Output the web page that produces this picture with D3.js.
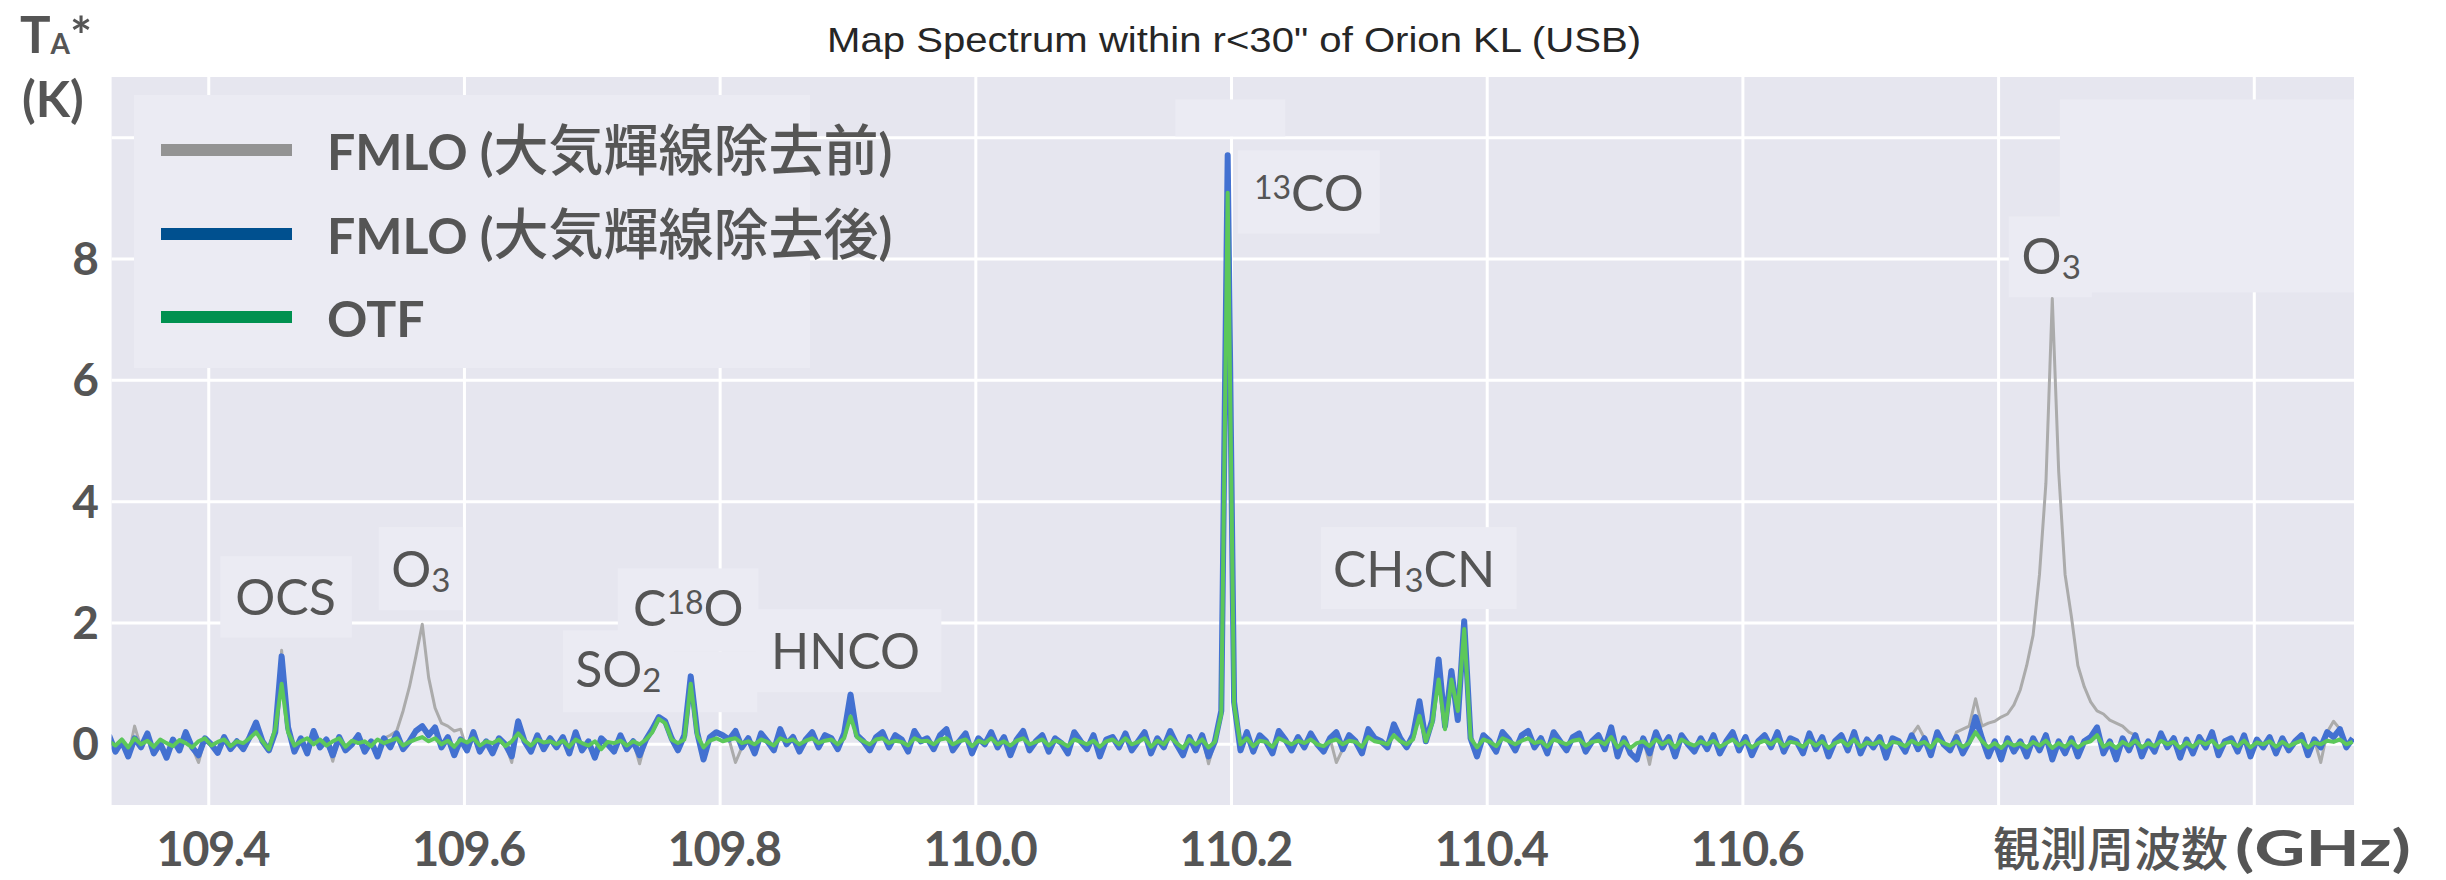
<!DOCTYPE html>
<html>
<head>
<meta charset="utf-8">
<script src="https://cdn.jsdelivr.net/npm/d3@7"></script>
<style>
  body { margin: 0; background: #fff; }
  svg { display: block; }
</style>
</head>
<body>
<div id="chart"></div>
<script>
// spectrometer channel grid (GHz)
const chanStart = 109.322;
const chanWidth = 0.005;

// FMLO after atmospheric line removal, T_A* (K), one value per channel
const fmloAfter = [
  0.15,-0.12,0.05,-0.2,0.1,-0.05,0.18,-0.15,0.02,-0.22,
  0.08,-0.1,0.2,-0.05,-0.18,0.1,0.0,-0.14,0.12,-0.08,
  0.05,-0.08,0.12,0.36,0.05,-0.1,0.2,1.45,0.28,-0.12,
  0.1,-0.15,0.22,-0.05,0.08,-0.18,0.12,-0.1,0.0,0.15,
  -0.12,0.05,-0.2,0.1,-0.05,0.18,-0.08,0.05,0.22,0.3,
  0.15,0.28,-0.05,0.12,-0.18,0.08,-0.1,0.2,-0.12,0.05,
  -0.15,0.1,0.0,-0.2,0.38,0.05,-0.12,0.15,-0.08,0.1,
  -0.05,0.12,-0.15,0.2,-0.1,0.05,-0.22,0.1,0.0,-0.12,
  0.15,-0.08,0.05,-0.18,0.08,0.25,0.45,0.38,0.1,-0.1,
  0.15,1.12,0.2,-0.25,0.12,0.2,0.15,0.08,0.22,-0.05,
  0.1,-0.15,0.18,0.05,-0.1,0.25,0.0,0.12,-0.12,0.08,
  0.2,-0.05,0.15,0.1,-0.08,0.18,0.82,0.15,0.05,-0.1,
  0.12,0.2,-0.05,0.15,0.08,-0.12,0.22,0.05,0.1,-0.08,
  0.15,0.25,-0.1,0.05,0.18,-0.15,0.1,0.0,0.2,-0.05,
  0.12,-0.18,0.08,0.22,-0.1,0.05,0.15,-0.12,0.1,0.02,
  -0.15,0.2,0.05,-0.08,0.15,-0.2,0.08,0.12,-0.05,0.18,
  -0.1,0.05,0.2,-0.15,0.1,-0.05,0.22,0.0,-0.18,0.12,
  -0.1,0.15,-0.2,0.05,0.55,9.71,0.7,-0.1,0.2,-0.12,
  0.15,0.05,-0.15,0.22,0.08,-0.1,0.12,-0.05,0.18,0.0,
  -0.12,0.1,0.2,-0.08,0.15,0.05,-0.15,0.25,0.1,0.05,
  -0.05,0.33,0.1,-0.05,0.15,0.71,0.05,0.4,1.4,0.3,
  1.21,0.4,2.03,0.1,-0.2,0.15,0.05,-0.12,0.2,0.08,
  -0.1,0.15,0.22,-0.05,0.1,-0.15,0.2,0.05,-0.1,0.12,
  0.18,-0.12,0.05,0.15,-0.08,0.28,-0.2,0.1,-0.15,-0.25,
  0.1,-0.15,0.2,-0.05,0.12,-0.2,0.15,0.0,-0.12,0.1,
  -0.08,0.15,-0.15,0.05,0.2,-0.1,0.12,-0.18,0.05,0.15,
  -0.05,0.2,-0.12,0.1,0.05,-0.15,0.18,-0.08,0.12,-0.2,
  0.05,0.15,-0.1,0.2,-0.15,0.08,-0.05,0.12,-0.22,0.1,
  0.05,-0.12,0.15,-0.08,0.1,-0.18,0.2,0.0,-0.1,0.12,
  -0.15,0.05,0.45,0.1,-0.2,0.05,-0.25,0.1,-0.12,0.05,
  -0.2,0.1,-0.1,0.15,-0.25,0.05,-0.15,0.1,-0.2,0.05,
  0.12,0.28,-0.15,0.05,-0.25,0.1,-0.1,0.15,-0.2,0.05,
  -0.12,0.18,-0.05,0.1,-0.22,0.08,-0.15,0.12,-0.05,0.2,
  -0.18,0.05,0.1,-0.12,0.15,-0.2,0.08,-0.05,0.12,-0.15,
  0.1,-0.1,0.05,0.15,-0.18,0.08,-0.05,0.2,0.12,0.25,-0.05,0.1
];

// OTF spectrum, same channels
const otf = [
  0.05,-0.02,0.08,-0.05,0.1,0.0,0.06,-0.04,0.08,0.02,
  -0.03,0.07,0.02,-0.05,0.05,0.1,-0.02,0.04,0.08,-0.03,
  0.05,0.02,0.1,0.2,0.05,-0.08,0.25,1.0,0.2,-0.02,
  0.05,0.1,0.0,0.08,-0.02,0.05,0.1,-0.04,0.06,0.02,
  0.05,-0.03,0.08,0.02,0.06,0.1,-0.02,0.04,0.08,0.12,
  0.05,0.1,0.0,0.06,-0.04,0.08,0.03,0.1,-0.02,0.05,
  0.02,0.08,-0.03,0.05,0.18,0.06,-0.02,0.08,0.03,0.05,
  0.0,0.06,-0.04,0.08,0.02,-0.02,0.05,-0.08,0.04,0.02,
  0.06,-0.02,0.05,0.0,0.08,0.2,0.42,0.35,0.08,0.02,
  0.08,1.0,0.15,-0.05,0.06,0.1,0.05,0.08,0.1,0.02,
  0.05,0.0,0.08,0.04,-0.02,0.1,0.05,0.08,0.0,0.06,
  0.1,0.02,0.06,0.08,0.0,0.1,0.46,0.12,0.05,0.0,
  0.08,0.1,0.02,0.06,0.04,-0.02,0.1,0.05,0.06,0.0,
  0.08,0.1,0.0,0.05,0.08,-0.03,0.06,0.02,0.1,0.0,
  0.05,-0.02,0.06,0.1,0.0,0.04,0.08,-0.02,0.06,0.03,
  -0.03,0.08,0.04,0.0,0.06,-0.04,0.05,0.08,0.0,0.1,
  0.0,0.04,0.1,-0.04,0.06,0.0,0.12,0.02,-0.06,0.08,
  0.0,0.08,-0.05,0.04,0.5,9.09,0.65,0.0,0.1,-0.03,
  0.06,0.04,-0.04,0.1,0.05,0.0,0.06,0.02,0.08,0.0,
  -0.03,0.05,0.08,0.0,0.06,0.04,-0.04,0.12,0.05,0.03,
  0.0,0.15,0.05,0.0,0.08,0.47,0.05,0.35,1.07,0.25,
  1.07,0.55,1.9,0.1,-0.05,0.08,0.04,-0.03,0.1,0.05,
  0.0,0.06,0.1,0.02,0.05,-0.04,0.08,0.04,0.0,0.06,
  0.08,-0.02,0.04,0.06,0.0,0.12,-0.05,0.05,-0.06,0.02,
  0.05,-0.03,0.08,0.0,0.06,-0.05,0.08,0.02,-0.02,0.05,
  0.0,0.06,-0.04,0.02,0.08,-0.02,0.05,-0.05,0.02,0.06,
  0.0,0.08,-0.03,0.04,0.02,-0.04,0.06,-0.02,0.05,-0.06,
  0.02,0.06,-0.02,0.08,-0.04,0.03,0.0,0.05,-0.05,0.04,
  0.02,-0.03,0.06,0.0,0.04,-0.05,0.08,0.02,-0.02,0.05,
  -0.04,0.02,0.2,0.05,-0.05,0.02,-0.06,0.04,-0.02,0.02,
  -0.05,0.04,-0.02,0.06,-0.06,0.02,-0.04,0.05,-0.05,0.02,
  0.05,0.15,-0.04,0.02,-0.06,0.04,-0.02,0.06,-0.05,0.02,
  -0.03,0.06,0.0,0.04,-0.06,0.03,-0.04,0.05,0.0,0.06,
  -0.05,0.02,0.04,-0.03,0.06,-0.05,0.03,0.0,0.05,-0.04,
  0.04,-0.03,0.02,0.06,-0.05,0.03,0.0,0.06,0.04,0.08,0.0,0.04
];

// FMLO before removal: channels where it differs from fmloAfter (O3 sky lines etc.)
const skyFreq = [
  109.342,109.392,109.457,109.497,
  109.542,109.547,109.552,109.557,109.562,109.567,109.572,109.577,109.582,109.587,109.592,109.597,
  109.637,109.737,109.812,110.182,110.282,110.527,110.737,
  110.767,110.772,110.777,110.782,110.787,110.792,110.797,110.802,110.807,110.812,110.817,
  110.822,110.827,110.832,110.837,110.842,110.847,110.852,110.857,110.862,110.867,110.872,
  110.877,110.882,110.887,110.892,110.897,110.902,
  111.052,111.062
];
const skyVal = [
  0.3,-0.3,1.55,-0.28,
  0.15,0.22,0.55,0.95,1.45,1.98,1.1,0.6,0.35,0.3,0.22,0.25,
  -0.3,-0.32,-0.3,-0.32,-0.3,-0.33,0.3,
  0.2,0.25,0.3,0.75,0.3,0.35,0.38,0.45,0.5,0.65,0.9,
  1.3,1.8,2.8,4.3,7.35,4.5,2.8,2.1,1.3,0.95,0.7,
  0.55,0.5,0.4,0.35,0.3,0.2,
  -0.3,0.38
];

const yTicks = [0, 2, 4, 6, 8];
const yGrid = [0, 2, 4, 6, 8, 10];
const xGrid = [109.4, 109.6, 109.8, 110.0, 110.2, 110.4, 110.6, 110.8, 111.0];
const xTickLabels = ["109.4", "109.6", "109.8", "110.0", "110.2", "110.4", "110.6"];

// molecule labels: start frequency and baseline level (K)
const lineLabels = [
  { parts: [["OCS", ""]], f: 109.4207, k: 2.14 },
  { parts: [["O", ""], ["3", "sub"]], f: 109.5427, k: 2.59 },
  { parts: [["SO", ""], ["2", "sub"]], f: 109.6866, k: 0.94 },
  { parts: [["C", ""], ["18", "sup"], ["O", ""]], f: 109.7319, k: 1.945 },
  { parts: [["HNCO", ""]], f: 109.8398, k: 1.236 },
  { parts: [["13", "sup"], ["CO", ""]], f: 110.2175, k: 8.785 },
  { parts: [["CH", ""], ["3", "sub"], ["CN", ""]], f: 110.2793, k: 2.59 },
  { parts: [["O", ""], ["3", "sub"]], f: 110.818, k: 7.747 }
];

// pale patches behind the labels: [f0, f1, kTop, kBottom]
const labelPatches = [
  [109.409, 109.512, 3.10, 1.76],
  [109.533, 109.599, 3.58, 2.21],
  [109.677, 109.764, 1.88, 0.53],
  [109.720, 109.830, 2.90, 1.53],
  [109.764, 109.829, 1.53, 0.53],
  [109.828, 109.973, 2.23, 0.86],
  [110.205, 110.316, 9.79, 8.42],
  [110.156, 110.242, 10.63, 10.02],
  [110.270, 110.423, 3.58, 2.23],
  [110.808, 110.873, 8.70, 7.37],
  [110.848, 111.078, 10.63, 7.45]
];

const W = 2446, H = 880;
const gill = "Lato, 'DejaVu Sans', sans-serif";
const cjk = "'Noto Sans CJK JP', 'Noto Sans CJK SC', sans-serif";
const textGray = "#555555";

const svg = d3.select("#chart").append("svg")
    .attr("width", W)
    .attr("height", H);

svg.append("rect").attr("width", W).attr("height", H).attr("fill", "#ffffff");

const x = d3.scaleLinear().domain([109.324, 111.078]).range([111.6, 2354]);
const y = d3.scaleLinear().domain([-1, 11]).range([805, 77]);

// plot background
svg.append("rect")
    .attr("x", x.range()[0])
    .attr("y", y.range()[1])
    .attr("width", x.range()[1] - x.range()[0])
    .attr("height", y.range()[0] - y.range()[1])
    .attr("fill", "#e6e6ef");

svg.append("clipPath").attr("id", "plotclip")
  .append("rect")
    .attr("x", x.range()[0])
    .attr("y", y.range()[1])
    .attr("width", x.range()[1] - x.range()[0])
    .attr("height", y.range()[0] - y.range()[1]);

// grid
svg.append("g").selectAll("line")
    .data(yGrid).enter().append("line")
    .attr("x1", x.range()[0]).attr("x2", x.range()[1])
    .attr("y1", d => y(d)).attr("y2", d => y(d))
    .attr("stroke", "#ffffff").attr("stroke-width", 3);

svg.append("g").selectAll("line")
    .data(xGrid).enter().append("line")
    .attr("x1", d => x(d)).attr("x2", d => x(d))
    .attr("y1", y.range()[1]).attr("y2", y.range()[0])
    .attr("stroke", "#ffffff").attr("stroke-width", 3);

// label patches
svg.append("g").selectAll("rect")
    .data(labelPatches).enter().append("rect")
    .attr("x", d => x(d[0]))
    .attr("y", d => y(d[2]))
    .attr("width", d => x(d[1]) - x(d[0]))
    .attr("height", d => y(d[3]) - y(d[2]))
    .attr("fill", "#ebebf3");

// build series
const n = Math.min(fmloAfter.length, otf.length);
const freq = d3.range(n).map(i => chanStart + i * chanWidth);
const fmloBefore = fmloAfter.slice(0, n);
skyFreq.forEach((f, j) => {
    const i = Math.round((f - chanStart) / chanWidth);
    if (i >= 0 && i < n) fmloBefore[i] = skyVal[j];
});

const series = [
    { values: fmloBefore, color: "#ababab", width: 3 },
    { values: fmloAfter, color: "#4371d1", width: 6 },
    { values: otf, color: "#5cc85a", width: 4 }
];

const line = d3.line()
    .x((d, i) => x(freq[i]))
    .y(d => y(d));

svg.append("g").attr("clip-path", "url(#plotclip)")
  .selectAll("path")
    .data(series).enter().append("path")
    .attr("d", d => line(d.values.slice(0, n)))
    .attr("fill", "none")
    .attr("stroke", d => d.color)
    .attr("stroke-width", d => d.width)
    .attr("stroke-linejoin", "round");

// molecule labels
const lbl = svg.append("g").selectAll("text")
    .data(lineLabels).enter().append("text")
    .attr("x", d => x(d.f))
    .attr("y", d => y(d.k))
    .attr("font-family", gill)
    .attr("fill", textGray);

lbl.each(function (d) {
    const t = d3.select(this);
    let shift = 0;
    d.parts.forEach(p => {
        let target = 0, size = 50;
        if (p[1] === "sub") { target = 5; size = 33; }
        if (p[1] === "sup") { target = -12; size = 32; }
        t.append("tspan")
            .attr("dy", target - shift)
            .attr("font-size", size)
            .text(p[0]);
        shift = target;
    });
});

// y ticks
svg.append("g").selectAll("text")
    .data(yTicks).enter().append("text")
    .attr("x", 99)
    .attr("y", d => y(d) + 16)
    .attr("text-anchor", "end")
    .attr("font-family", gill)
    .attr("font-weight", 700)
    .attr("font-size", 46)
    .attr("fill", textGray)
    .text(d => d);

// x ticks
svg.append("g").selectAll("text")
    .data(xTickLabels).enter().append("text")
    .attr("x", d => x(+d) + 4)
    .attr("y", 866)
    .attr("text-anchor", "middle")
    .attr("font-family", gill)
    .attr("font-weight", 700)
    .attr("font-size", 47)
    .attr("letter-spacing", -1.5)
    .attr("fill", textGray)
    .text(d => d);

// x axis label
const xlab = svg.append("text")
    .attr("x", 1993).attr("y", 866)
    .attr("fill", textGray);
xlab.append("tspan")
    .attr("font-family", cjk)
    .attr("font-weight", 500)
    .attr("font-size", 47)
    .text("観測周波数");
xlab.append("tspan")
    .attr("x", 2235)
    .attr("font-family", gill)
    .attr("font-weight", 700)
    .attr("font-size", 49)
    .attr("textLength", 176)
    .attr("lengthAdjust", "spacingAndGlyphs")
    .text("(GHz)");

// y axis label T_A* (K)
const ylab = svg.append("g")
    .attr("font-family", gill)
    .attr("font-weight", 700)
    .attr("fill", textGray);
const ta = ylab.append("text").attr("x", 20).attr("y", 53).attr("font-size", 51);
ta.append("tspan").text("T");
ta.append("tspan").attr("dy", 1).attr("font-size", 28).text("A");
ta.append("tspan").attr("dy", 1).attr("font-size", 52).text("*");
ylab.append("text").attr("x", 22).attr("y", 117).attr("font-size", 50).text("(K)");

// title
svg.append("text")
    .attr("x", 827).attr("y", 52)
    .attr("font-family", "'Liberation Sans', Arial, sans-serif")
    .attr("font-size", 35)
    .attr("textLength", 814)
    .attr("lengthAdjust", "spacingAndGlyphs")
    .attr("fill", "#262626")
    .text("Map Spectrum within r<30\" of Orion KL (USB)");

// legend
const legendItems = [
    { pre: "FMLO (", cjk: "大気輝線除去前", post: ")", color: "#939393" },
    { pre: "FMLO (", cjk: "大気輝線除去後", post: ")", color: "#00508f" },
    { pre: "OTF", cjk: "", post: "", color: "#009150" }
];
const legendBase = [170, 254, 337];

const legend = svg.append("g");
legend.append("rect")
    .attr("x", 134).attr("y", 95)
    .attr("width", 676).attr("height", 273)
    .attr("fill", "#ebebf3");

legendItems.forEach((d, i) => {
    const by = legendBase[i];
    legend.append("line")
        .attr("x1", 161).attr("x2", 292)
        .attr("y1", by - 20).attr("y2", by - 20)
        .attr("stroke", d.color)
        .attr("stroke-width", 12);
    const t = legend.append("text")
        .attr("x", 327).attr("y", by)
        .attr("fill", textGray);
    t.append("tspan").attr("font-family", gill).attr("font-weight", 700)
        .attr("font-size", 50).text(d.pre);
    if (d.cjk) {
        t.append("tspan").attr("font-family", cjk).attr("font-weight", 500)
            .attr("font-size", 55).text(d.cjk);
        t.append("tspan").attr("font-family", gill).attr("font-weight", 700)
            .attr("font-size", 50).text(d.post);
    }
});
</script>
</body>
</html>
